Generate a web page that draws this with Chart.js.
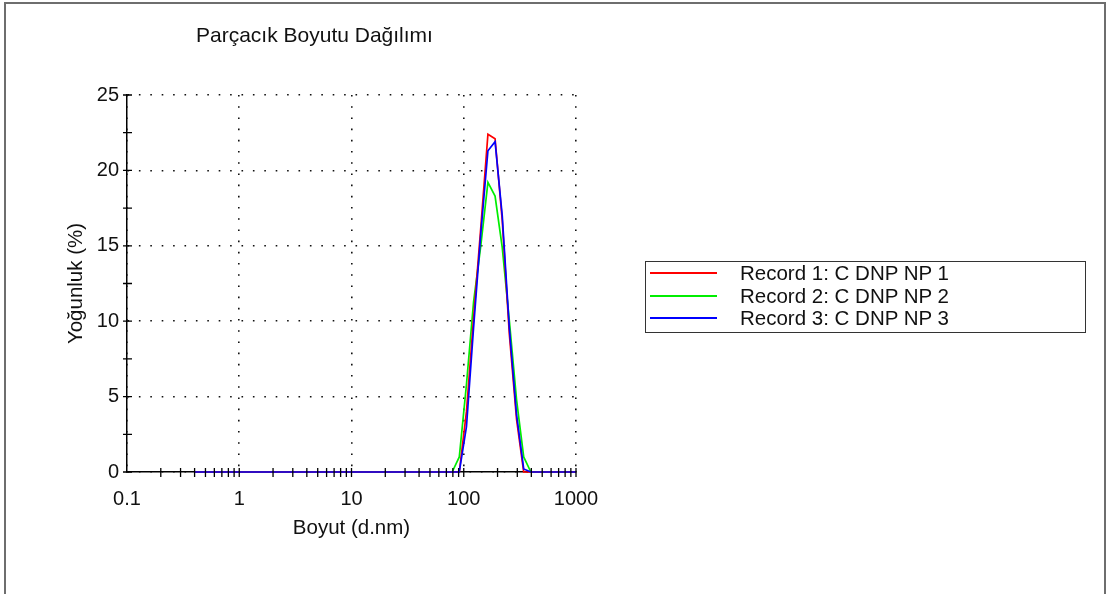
<!DOCTYPE html>
<html lang="tr">
<head>
<meta charset="utf-8">
<title>Parçacık Boyutu Dağılımı</title>
<script src="https://cdn.jsdelivr.net/npm/chart.js@4.4.1/dist/chart.umd.min.js"></script>
<style>
    html, body { margin: 0; padding: 0; background: #fff; }
    body {
        width: 1106px; height: 594px; overflow: hidden; position: relative;
        font-family: 'Liberation Sans', Arial, sans-serif; color: #111;
    }
    #cerceve {
        position: absolute; left: 4px; top: 2px; width: 1098px; height: 600px;
        border: 2px solid #6e6e6e; border-bottom: none;
    }
    #grafik { position: absolute; left: 0; top: 0; }
    #baslik {
        position: absolute; left: 196px; top: 24px;
        font-size: 21px; line-height: 21px; white-space: nowrap;
    }
    #lejant {
        position: absolute; left: 645px; top: 261px; width: 441px; height: 72px;
        border: 1.5px solid #333; box-sizing: border-box;
    }
    .satir { height: 22.4px; display: flex; align-items: center; font-size: 20.5px; white-space: nowrap; }
    .cizgi { width: 67px; height: 2px; margin-left: 4px; margin-right: 23px; }
</style>
</head>
<body>
<div id="cerceve"></div>
<canvas id="grafik" width="1106" height="594"></canvas>
<div id="baslik">Parçacık Boyutu Dağılımı</div>
<div id="lejant"></div>

<script>
// Boyut sınıfları (d.nm), logaritmik aralıklı
const boyutlar = [
    0.4, 0.4632, 0.5365, 0.6213, 0.7195, 0.8332, 0.9649, 1.117, 1.294, 1.499,
    1.736, 2.01, 2.328, 2.696, 3.122, 3.615, 4.187, 4.849, 5.615, 6.503,
    7.531, 8.721, 10.1, 11.7, 13.54, 15.69, 18.17, 21.04, 24.36, 28.21,
    32.67, 37.84, 43.82, 50.75, 58.77, 68.06, 78.82, 91.28, 105.7, 122.4,
    141.8, 164.2, 190.1, 220.2, 255, 295.3, 342, 396.1, 458.7, 531.2,
    615.1, 712.4, 825, 955.4, 1106
];

// Yoğunluk (%) değerleri, her ölçüm için
const kayit1 = [
    0, 0, 0, 0, 0, 0, 0, 0, 0, 0,
    0, 0, 0, 0, 0, 0, 0, 0, 0, 0,
    0, 0, 0, 0, 0, 0, 0, 0, 0, 0,
    0, 0, 0, 0, 0, 0, 0, 0, 4.0, 10.2,
    16.2, 22.4, 22.1, 16.7, 9.1, 3.5, 0, 0, 0, 0,
    0, 0, 0, 0, 0
];
const kayit2 = [
    0, 0, 0, 0, 0, 0, 0, 0, 0, 0,
    0, 0, 0, 0, 0, 0, 0, 0, 0, 0,
    0, 0, 0, 0, 0, 0, 0, 0, 0, 0,
    0, 0, 0, 0, 0, 0, 0, 1.0, 5.8, 11.3,
    15.0, 19.2, 18.3, 14.9, 10.0, 4.8, 1.0, 0, 0, 0,
    0, 0, 0, 0, 0
];
const kayit3 = [
    0, 0, 0, 0, 0, 0, 0, 0, 0, 0,
    0, 0, 0, 0, 0, 0, 0, 0, 0, 0,
    0, 0, 0, 0, 0, 0, 0, 0, 0, 0,
    0, 0, 0, 0, 0, 0, 0, 0, 3.0, 9.6,
    15.8, 21.3, 21.9, 17.0, 9.5, 3.8, 0.2, 0, 0, 0,
    0, 0, 0, 0, 0
];

const etiketler = ['Record 1: C DNP NP 1', 'Record 2: C DNP NP 2', 'Record 3: C DNP NP 3'];
const renkler = ['#ff0000', '#00ee00', '#0000ff'];

// Eksen değerleri
const xAnaCentikler = [0.1, 1, 10, 100, 1000];
const xCentikEtiketleri = ['0.1', '1', '10', '100', '1000'];
const xKucukCentikler = [
    0.2, 0.3, 0.4, 0.5, 0.6, 0.7, 0.8, 0.9, 1,
    2, 3, 4, 5, 6, 7, 8, 9, 10,
    20, 30, 40, 50, 60, 70, 80, 90, 100,
    200, 300, 400, 500, 600, 700, 800, 900, 1000
];
const yKucukCentikler = [0, 2.5, 5, 7.5, 10, 12.5, 15, 17.5, 20, 22.5, 25];

const yaziAilesi = "'Liberation Sans', Arial, sans-serif";
const centikYazisi = { family: yaziAilesi, size: 20 };
const eksenYazisi = { family: yaziAilesi, size: 20.5 };

function seri(degerler) {
    return boyutlar.map((b, i) => ({ x: b, y: degerler[i] }));
}

// Eksen üzerinde iki yana taşan küçük çentikler
const centikler = {
    id: 'centikler',
    afterDatasetsDraw(chart) {
        const { ctx, scales: { x, y } } = chart;
        ctx.save();
        ctx.strokeStyle = '#000';
        ctx.lineWidth = 1.3;
        ctx.beginPath();
        yKucukCentikler.forEach(v => {
            const py = y.getPixelForValue(v);
            ctx.moveTo(x.left - 4, py);
            ctx.lineTo(x.left + 5, py);
        });
        xKucukCentikler.forEach(v => {
            const px = x.getPixelForValue(v);
            ctx.moveTo(px, y.bottom - 4);
            ctx.lineTo(px, y.bottom + 5);
        });
        ctx.stroke();
        ctx.restore();
    }
};

const kayitlar = [kayit1, kayit2, kayit3];

new Chart(document.getElementById('grafik'), {
    type: 'line',
    data: {
        datasets: kayitlar.map((k, i) => ({
            label: etiketler[i],
            data: seri(k),
            borderColor: renkler[i],
            borderWidth: 1.7,
            pointRadius: 0,
            tension: 0,
            fill: false,
            clip: { left: 5, top: 5, right: 0, bottom: 5 },
            order: [1, 2, 0][i]
        }))
    },
    options: {
        responsive: false,
        animation: false,
        events: [],
        layout: { padding: { left: 60, top: 95, right: 530, bottom: 49 } },
        plugins: {
            legend: { display: false },
            title: { display: false },
            tooltip: { enabled: false }
        },
        scales: {
            x: {
                type: 'logarithmic',
                min: 0.1,
                max: 1000,
                afterBuildTicks: s => { s.ticks = xAnaCentikler.map(v => ({ value: v })); },
                afterFit: s => { s.height = 73; },
                ticks: {
                    autoSkip: false,
                    maxRotation: 0,
                    padding: 15,
                    color: '#111',
                    font: centikYazisi,
                    callback: (v, i) => xCentikEtiketleri[i]
                },
                grid: { drawTicks: false, color: '#111', lineWidth: 1.6 },
                border: { display: true, color: '#000', width: 1.5, dash: [1.6, 9.6] },
                title: { display: true, text: 'Boyut (d.nm)', color: '#111', font: eksenYazisi }
            },
            y: {
                min: 0,
                max: 25,
                afterFit: s => { s.width = 67; },
                ticks: { stepSize: 5, padding: 8, color: '#111', font: centikYazisi },
                grid: { drawTicks: false, color: '#111', lineWidth: 1.6 },
                border: { display: true, color: '#000', width: 1.5, dash: [1.6, 9.8] },
                title: { display: true, text: 'Yoğunluk (%)', color: '#111', font: eksenYazisi }
            }
        }
    },
    plugins: [centikler]
});

// Lejant kutusu
const lejant = document.getElementById('lejant');
etiketler.forEach((e, i) => {
    const satir = document.createElement('div');
    satir.className = 'satir';
    satir.innerHTML = `<span class="cizgi" style="background:${renkler[i]}"></span><span>${e}</span>`;
    lejant.appendChild(satir);
});
</script>
</body>
</html>
